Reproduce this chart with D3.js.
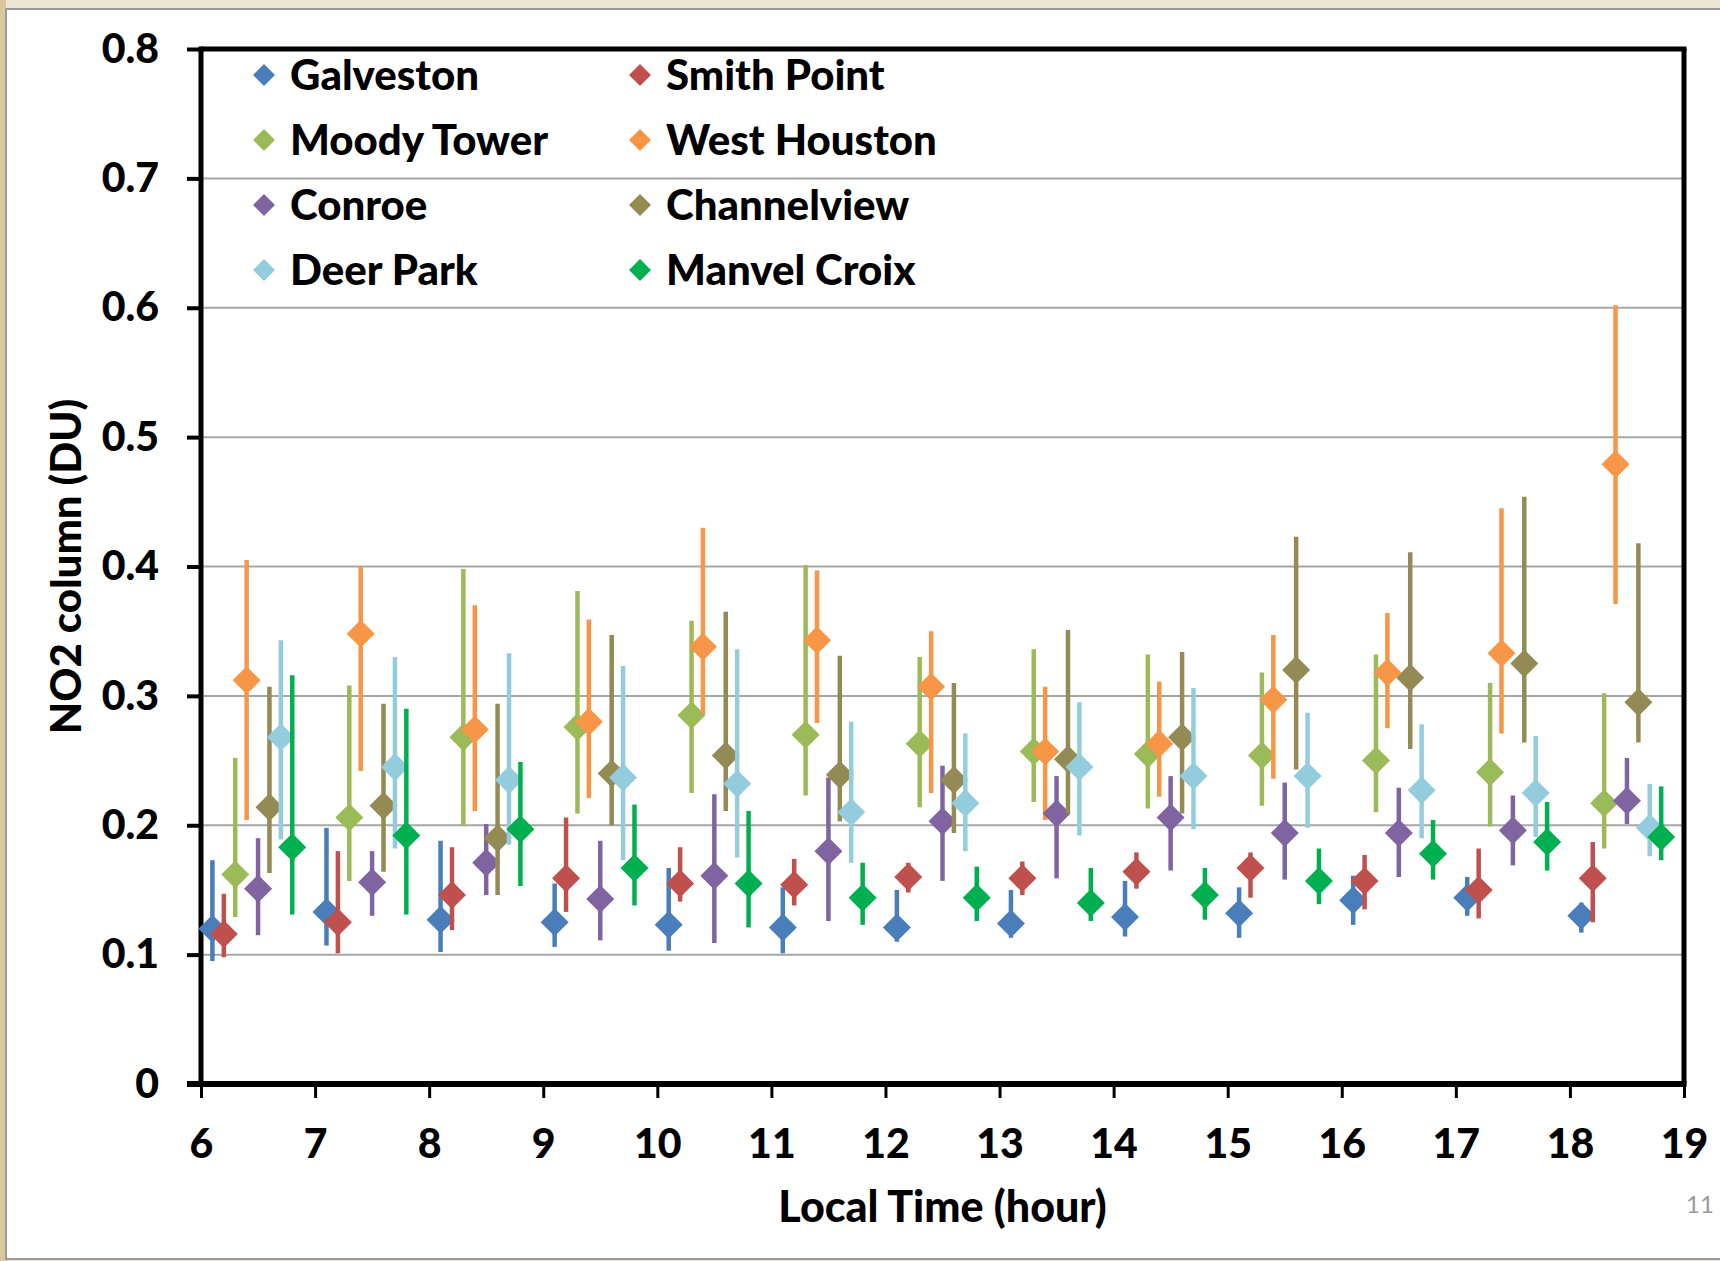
<!DOCTYPE html>
<html>
<head>
<meta charset="utf-8">
<script src="https://cdn.jsdelivr.net/npm/d3@7"></script>
<style>
  html, body { margin: 0; padding: 0; background: #ece6d6; }
  svg { display: block; }
  text { font-family: Lato, "Open Sans", sans-serif; }
</style>
</head>
<body>
<svg id="chart" width="1720" height="1261"></svg>
<script>
// Hourly NO2 column statistics per site: [mean, lower, upper] in DU
const hours = [6, 7, 8, 9, 10, 11, 12, 13, 14, 15, 16, 17, 18];
const xTicks = [6, 7, 8, 9, 10, 11, 12, 13, 14, 15, 16, 17, 18, 19];
const yTicks = [0, 0.1, 0.2, 0.3, 0.4, 0.5, 0.6, 0.7, 0.8];

const galveston = [[0.120,0.095,0.173],[0.133,0.107,0.198],[0.127,0.102,0.188],[0.125,0.106,0.155],[0.123,0.103,0.167],[0.121,0.101,0.152],[0.121,0.110,0.150],[0.124,0.113,0.150],[0.129,0.114,0.157],[0.132,0.113,0.152],[0.142,0.123,0.161],[0.144,0.130,0.160],[0.130,0.117,0.140]];
const smithPoint = [[0.116,0.098,0.147],[0.125,0.101,0.180],[0.146,0.119,0.183],[0.159,0.133,0.206],[0.155,0.141,0.183],[0.154,0.138,0.174],[0.160,0.148,0.171],[0.159,0.146,0.172],[0.164,0.151,0.179],[0.167,0.144,0.179],[0.157,0.135,0.177],[0.150,0.128,0.182],[0.159,0.125,0.187]];
const moodyTower = [[0.162,0.129,0.252],[0.206,0.157,0.308],[0.268,0.200,0.398],[0.276,0.209,0.381],[0.285,0.225,0.358],[0.270,0.223,0.401],[0.263,0.214,0.330],[0.257,0.218,0.336],[0.255,0.213,0.332],[0.254,0.215,0.318],[0.250,0.210,0.332],[0.241,0.199,0.310],[0.217,0.182,0.302]];
const westHouston = [[0.312,0.204,0.405],[0.348,0.242,0.400],[0.274,0.211,0.370],[0.280,0.221,0.359],[0.338,0.286,0.430],[0.343,0.279,0.397],[0.307,0.225,0.350],[0.257,0.204,0.307],[0.263,0.222,0.311],[0.297,0.236,0.347],[0.318,0.275,0.364],[0.333,0.271,0.445],[0.479,0.371,0.602]];
const conroe = [[0.151,0.115,0.190],[0.156,0.130,0.180],[0.171,0.146,0.201],[0.143,0.111,0.188],[0.161,0.109,0.224],[0.180,0.126,0.237],[0.203,0.157,0.246],[0.209,0.159,0.238],[0.206,0.165,0.238],[0.194,0.158,0.233],[0.194,0.160,0.229],[0.196,0.169,0.223],[0.219,0.201,0.252]];
const channelview = [[0.214,0.163,0.307],[0.215,0.164,0.294],[0.190,0.146,0.294],[0.240,0.200,0.347],[0.254,0.211,0.365],[0.239,0.203,0.331],[0.235,0.194,0.310],[0.251,0.209,0.351],[0.268,0.209,0.334],[0.320,0.243,0.423],[0.314,0.259,0.411],[0.325,0.264,0.454],[0.295,0.264,0.418]];
const deerPark = [[0.268,0.189,0.343],[0.245,0.182,0.330],[0.235,0.185,0.333],[0.237,0.173,0.323],[0.232,0.175,0.336],[0.210,0.171,0.280],[0.217,0.180,0.271],[0.245,0.192,0.295],[0.238,0.197,0.306],[0.238,0.198,0.287],[0.227,0.190,0.278],[0.225,0.191,0.269],[0.198,0.176,0.232]];
const manvelCroix = [[0.183,0.131,0.316],[0.192,0.131,0.290],[0.197,0.153,0.249],[0.167,0.138,0.216],[0.155,0.121,0.211],[0.144,0.123,0.171],[0.144,0.126,0.168],[0.140,0.126,0.167],[0.146,0.127,0.167],[0.157,0.139,0.182],[0.178,0.158,0.204],[0.187,0.165,0.218],[0.191,0.173,0.230]];

const siteNames = ["Galveston", "Smith Point", "Moody Tower", "West Houston", "Conroe", "Channelview", "Deer Park", "Manvel Croix"];
const siteValues = [galveston, smithPoint, moodyTower, westHouston, conroe, channelview, deerPark, manvelCroix];
const siteOffsets = [0.1, 0.2, 0.3, 0.4, 0.5, 0.6, 0.7, 0.8];
const siteColors = ["#4a7ebb", "#c0504d", "#9bbb59", "#f79646", "#8064a2", "#948a54", "#93cddd", "#00b050"];

const svg = d3.select("#chart");
const W = 1720, H = 1261;
const FONT = "Lato, sans-serif";

// page backdrop and white slide panel
svg.append("rect").attr("width", W).attr("height", H).attr("fill", "#ece6d6");
svg.append("rect").attr("x", 0).attr("y", 0).attr("width", 6).attr("height", H).attr("fill", "#d8c89e");
svg.append("rect").attr("x", 6).attr("y", 9).attr("width", W).attr("height", 1250)
  .attr("fill", "#ffffff").attr("stroke", "#9a9a9a").attr("stroke-width", 2);

const plotL = 201, plotR = 1684, plotT = 49, plotB = 1084;
const x = d3.scaleLinear().domain([6, 19]).range([plotL, plotR]);
const y = d3.scaleLinear().domain([0, 0.8]).range([plotB, plotT]);

// horizontal gridlines
svg.append("g").selectAll("line")
  .data(yTicks.filter(v => v > 0 && v < 0.8))
  .join("line")
  .attr("x1", plotL).attr("x2", plotR)
  .attr("y1", d => y(d)).attr("y2", d => y(d))
  .attr("stroke", "#a6a6a6").attr("stroke-width", 2);

// plot frame (top and right)
svg.append("line").attr("x1", plotL).attr("x2", plotR + 2.5).attr("y1", plotT).attr("y2", plotT)
  .attr("stroke", "#000").attr("stroke-width", 5);
svg.append("line").attr("x1", plotR).attr("x2", plotR).attr("y1", plotT).attr("y2", plotB)
  .attr("stroke", "#000").attr("stroke-width", 5);

// y axis
const yAxis = svg.append("g").attr("transform", `translate(${plotL},0)`)
  .call(d3.axisLeft(y).tickValues(yTicks).tickSize(14).tickPadding(28)
    .tickFormat(d => d === 0 ? "0" : d3.format(".1f")(d)));
yAxis.select(".domain").attr("stroke", "#000").attr("stroke-width", 5)
  .attr("d", `M0,${plotT - 2.5}V${plotB}`);
yAxis.selectAll(".tick line").attr("stroke", "#000").attr("stroke-width", 4);
yAxis.selectAll(".tick text").attr("fill", "#000").attr("font-size", 41).attr("font-weight", 900)
  .attr("font-family", FONT);

// x axis
const xAxis = svg.append("g").attr("transform", `translate(0,${plotB})`)
  .call(d3.axisBottom(x).tickValues(xTicks).tickSize(14).tickPadding(31).tickFormat(d3.format("d")));
xAxis.select(".domain").attr("stroke", "#000").attr("stroke-width", 6)
  .attr("d", `M${plotL - 14},0H${plotR + 2.5}`);
xAxis.selectAll(".tick line").attr("stroke", "#000").attr("stroke-width", 3);
xAxis.selectAll(".tick text").attr("fill", "#000").attr("font-size", 41).attr("font-weight", 900)
  .attr("font-family", FONT);

// axis titles
svg.append("text").attr("x", (plotL + plotR) / 2).attr("y", 1222)
  .attr("text-anchor", "middle").attr("font-size", 43).attr("font-weight", 900)
  .text("Local Time (hour)");
svg.append("text").attr("transform", `translate(81,${(plotT + plotB) / 2}) rotate(-90)`)
  .attr("text-anchor", "middle").attr("font-size", 42).attr("font-weight", 900)
  .text("NO2 column (DU)");

// page number
svg.append("text").attr("x", 1686).attr("y", 1213).attr("font-size", 24)
  .attr("fill", "#999").text("11");

const diamond = (cx, cy, r) => `M${cx},${cy - r}L${cx + r},${cy}L${cx},${cy + r}L${cx - r},${cy}Z`;

// error bars and markers, one group per site
siteNames.forEach((name, i) => {
  const rows = hours.map((h, k) => ({ t: h + siteOffsets[i], mean: siteValues[i][k][0], lo: siteValues[i][k][1], hi: siteValues[i][k][2] }));
  const g = svg.append("g").attr("class", "site");
  g.selectAll("line").data(rows).join("line")
    .attr("x1", d => x(d.t)).attr("x2", d => x(d.t))
    .attr("y1", d => y(d.lo)).attr("y2", d => y(d.hi))
    .attr("stroke", siteColors[i]).attr("stroke-width", 4.5);
  g.selectAll("path").data(rows).join("path")
    .attr("d", d => diamond(x(d.t), y(d.mean), 14))
    .attr("fill", siteColors[i]);
});

// legend in two columns
const legendCols = [264, 640];
const legendRows = [75, 140, 205, 270];
siteNames.forEach((name, i) => {
  const cx = legendCols[i % 2], cy = legendRows[Math.floor(i / 2)];
  svg.append("path").attr("d", diamond(cx, cy, 11)).attr("fill", siteColors[i]);
  svg.append("text").attr("x", cx + 26).attr("y", cy).attr("dy", "0.35em")
    .attr("font-size", 42).attr("font-weight", 900).attr("fill", "#000").text(name);
});
</script>
</body>
</html>
